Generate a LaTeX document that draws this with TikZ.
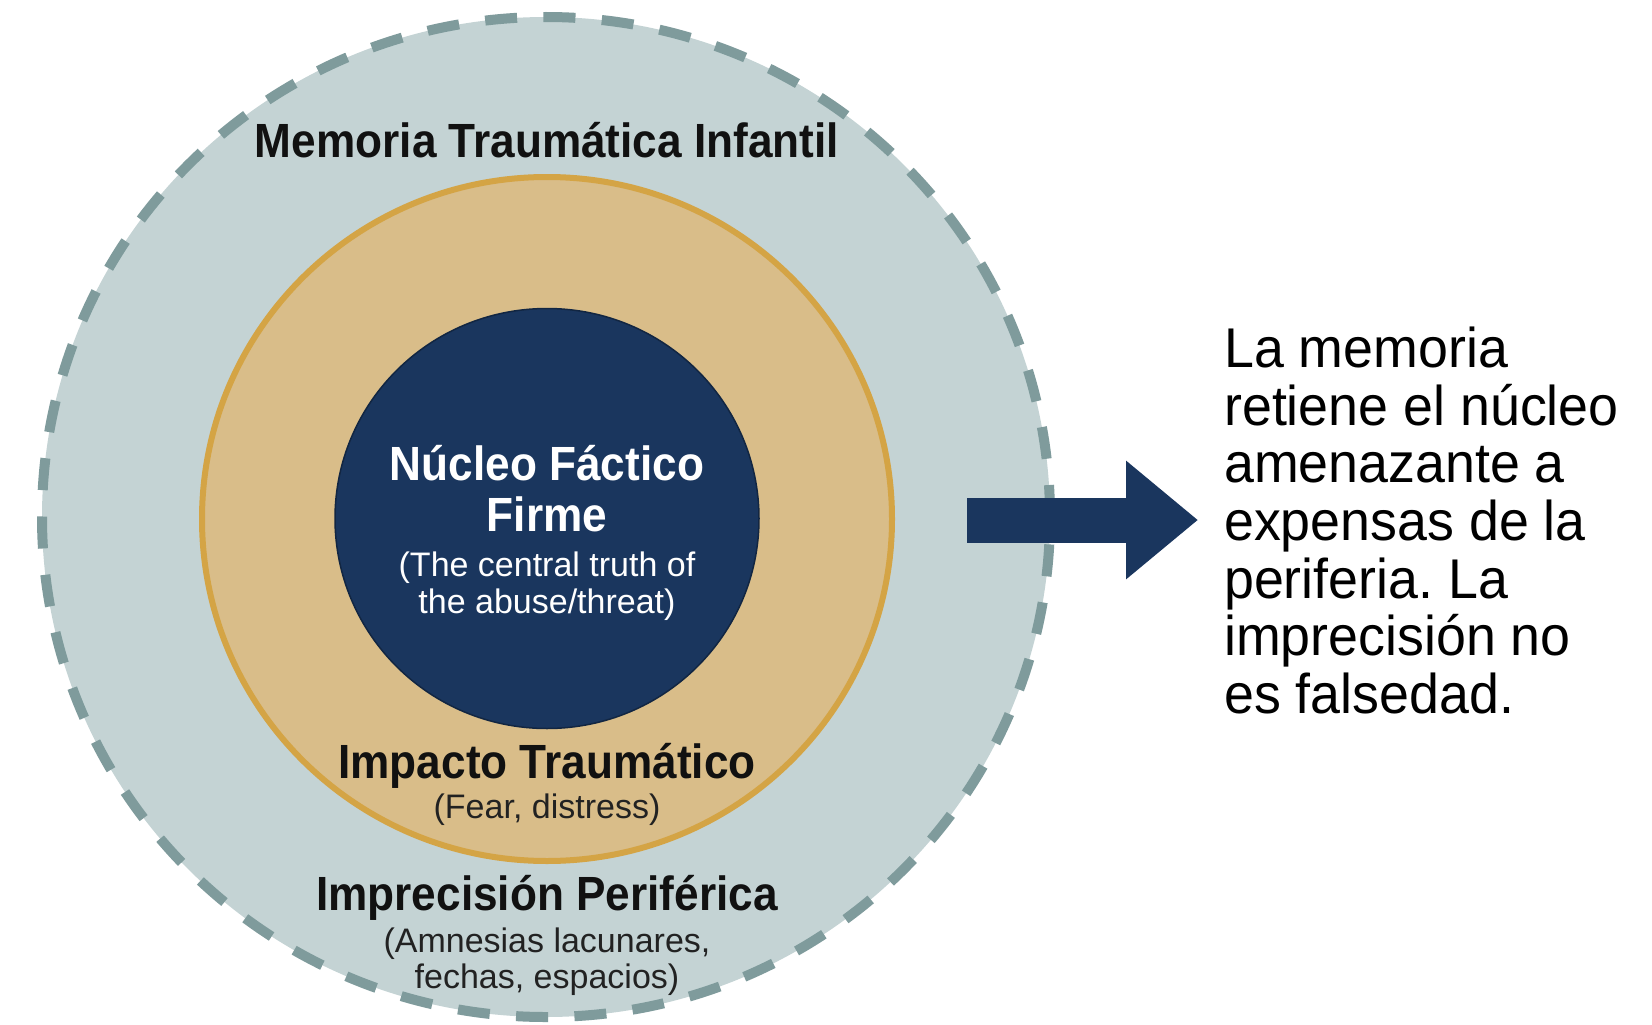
\documentclass[tikz,border=0pt]{standalone}
\usepackage{fontspec}
\setmainfont{Liberation Sans}
\newfontfamily\labfont[FakeStretch=0.92]{Liberation Sans}
\newfontfamily\subfont{Liberation Sans}
\newfontfamily\bodyfont[FakeStretch=0.96]{Liberation Sans}
\usetikzlibrary{arrows.meta,shapes.geometric}
\definecolor{outerfill}{HTML}{C4D3D4}
\definecolor{dashcol}{HTML}{7F9B9C}
\definecolor{tanfill}{HTML}{D9BD89}
\definecolor{gold}{HTML}{D4A445}
\definecolor{navy}{HTML}{1A365E}
\definecolor{labcol}{HTML}{111111}
\definecolor{subcol}{HTML}{222222}
\frenchspacing
\begin{document}
\begin{tikzpicture}[x=1pt,y=-1pt,
  ring/.style={ellipse, inner sep=0pt, outer sep=0pt},
  title/.style={anchor=base, inner sep=0pt, font=\labfont\bfseries\fontsize{48}{50}\selectfont, text=labcol},
  sub/.style={anchor=base, inner sep=0pt, font=\subfont\fontsize{34}{37}\selectfont, text=subcol},
  body/.style={anchor=base west, inner sep=0pt, font=\bodyfont\fontsize{56}{58}\selectfont, text=black}]
\fill[white] (0,0) rectangle (1652,1025);
\useasboundingbox (0,0) rectangle (1652,1025);
% circles
\node[ring, minimum width=1008pt, minimum height=1000pt, fill=outerfill, draw=dashcol, line width=10pt, dash pattern=on 32pt off 26.4pt] (outer) at (546,517) {};
\node[ring, minimum width=690pt, minimum height=684pt, fill=tanfill, draw=gold, line width=6pt] (impact) at (547,519) {};
\node[ring, minimum width=424pt, minimum height=420pt, fill=navy, draw=navy!70!black, line width=1.5pt] (core) at (547,518.5) {};
% labels
\node[title] (tmem) at (547,157) {Memoria Traumática Infantil};
\node[title, text=white] (tcore1) at (547,480) {Núcleo Fáctico};
\node[title, text=white] (tcore2) at (547,531) {Firme};
\node[sub, text=white] (score1) at (547,576) {(The central truth of};
\node[sub, text=white] (score2) at (547,613) {the abuse/threat)};
\node[title] (timp) at (547,778) {Impacto Traumático};
\node[sub] (simp) at (547,818) {(Fear, distress)};
\node[title] (tper) at (547,910) {Imprecisión Periférica};
\node[sub] (sper1) at (547,952) {(Amnesias lacunares,};
\node[sub] (sper2) at (547,988) {fechas, espacios)};
% right text
\node[body] (r1) at (1224,367) {La memoria};
\node[body] (r2) at (1224,425) {retiene el núcleo};
\node[body] (r3) at (1224,482) {amenazante a};
\node[body] (r4) at (1224,540) {expensas de la};
\node[body] (r5) at (1224,598) {periferia. La};
\node[body] (r6) at (1224,655) {imprecisión no};
\node[body] (r7) at (1224,713) {es falsedad.};
% arrow
\coordinate (astart) at (967,520);
\coordinate (aend) at (1198,520);
\draw[navy, line width=45pt, -{Triangle[length=72pt,width=114pt]}] (astart) -- (aend);
\end{tikzpicture}
\end{document}
